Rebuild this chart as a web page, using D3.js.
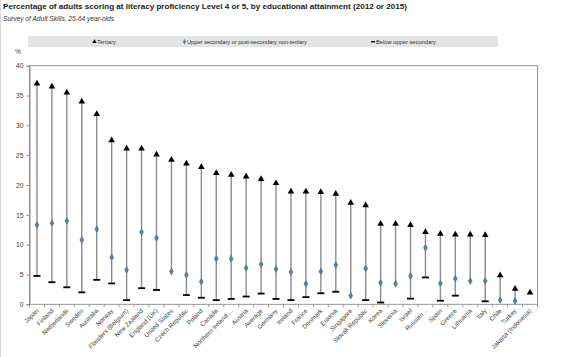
<!DOCTYPE html>
<html>
<head>
<meta charset="utf-8">
<script src="https://cdn.jsdelivr.net/npm/d3@7"></script>
<style>
  html, body { margin: 0; padding: 0; background: #fff; }
  svg { display: block; font-family: "Liberation Sans", Arial, sans-serif; }
</style>
</head>
<body>
<svg id="chart" width="564" height="357"></svg>
<script>
const countries = ["Japan","Finland","Netherlands","Sweden","Australia","Norway","Flanders (Belgium)","New Zealand","England (UK)","United States","Czech Republic","Poland","Canada","Northern Ireland ...","Austria","Average","Germany","Ireland","France","Denmark","Estonia","Singapore","Slovak Republic","Korea","Slovenia","Israel","Russian...","Spain","Greece","Lithuania","Italy","Chile","Turkey","Jakarta (Indonesia)"];
const tertiary = [37.0,36.5,35.5,34.0,31.9,27.5,26.1,26.1,25.1,24.2,23.6,23.0,22.0,21.7,21.4,21.0,20.3,18.9,18.9,18.8,18.5,17.0,16.6,13.5,13.5,13.3,12.1,11.8,11.7,11.7,11.6,4.85,2.6,1.95];
const upperSecondary = [13.3,13.6,14.0,10.8,12.6,7.9,5.75,12.1,11.1,5.5,4.9,3.8,7.65,7.65,6.1,6.7,5.9,5.4,3.45,5.5,6.6,1.45,6.0,3.6,3.45,4.75,9.5,3.5,4.3,3.9,3.9,0.7,0.55,null];
const belowUpper = [4.75,3.7,2.85,2.0,4.1,3.5,0.7,2.7,2.4,null,1.55,1.1,0.7,0.9,1.3,1.8,0.9,0.7,1.2,1.85,2.1,null,0.7,0.3,null,0.95,4.5,0.6,1.45,null,0.5,null,null,null];
const yTicks = [0,5,10,15,20,25,30,35,40];
const legendLabels = ["Tertiary","Upper secondary or post-secondary non-tertiary","Below upper secondary"];

const svg = d3.select("#chart");
const L = 29.5, R = 537.5, T = 65.7, B = 304.3;

const x = d3.scaleBand().domain(countries).range([L, R]).padding(0);
const y = d3.scaleLinear().domain([0, 40]).range([B, T]);

// page left border
svg.append("line").attr("x1",0.5).attr("x2",0.5).attr("y1",0).attr("y2",357).attr("stroke","#d8d8d8");

// Title
svg.append("text").attr("x",3).attr("y",9).attr("font-size",8.1).attr("font-weight","bold").attr("fill","#1a1a1a")
  .text("Percentage of adults scoring at literacy proficiency Level 4 or 5, by educational attainment (2012 or 2015)");
svg.append("text").attr("x",3).attr("y",21).attr("font-size",6.6).attr("font-style","italic").attr("fill","#333")
  .text("Survey of Adult Skills, 25-64 year-olds");

// Legend
svg.append("rect").attr("x",28).attr("y",36).attr("width",470).attr("height",11).attr("fill","#e4e4e4");
const lg = svg.append("g").attr("font-size",5.8).attr("fill","#333");
lg.append("path").attr("d", d3.symbol(d3.symbolTriangle, 9)()).attr("transform","translate(94.5,41.8)").attr("fill","#000");
lg.append("text").attr("x",97).attr("y",44).text(legendLabels[0]);
lg.append("path").attr("d", d3.symbol(d3.symbolDiamond, 9)()).attr("transform","translate(184.5,41.7)").attr("fill","#5a7aa5");
lg.append("text").attr("x",187).attr("y",44).attr("textLength",120).text(legendLabels[1]);
lg.append("rect").attr("x",371).attr("y",41).attr("width",4).attr("height",1.4).attr("fill","#000");
lg.append("text").attr("x",376).attr("y",44).attr("textLength",60).text(legendLabels[2]);

// % label
svg.append("text").attr("x",15).attr("y",54).attr("font-size",6.5).attr("fill","#444").text("%");

// Plot frame
svg.append("rect").attr("x",L).attr("y",T).attr("width",R-L).attr("height",B-T)
  .attr("fill","none").attr("stroke","#8a8a8a").attr("stroke-width",0.9);

// Y axis
const yAxis = d3.axisLeft(y).tickValues(yTicks).tickSize(3).tickPadding(3);
const gy = svg.append("g").attr("transform",`translate(${L},0)`).call(yAxis);
gy.select(".domain").attr("stroke","#8a8a8a");
gy.selectAll(".tick line").attr("stroke","#8a8a8a");
gy.selectAll(".tick text").attr("font-size",6.8).attr("fill","#444").attr("font-family","Liberation Sans, Arial, sans-serif");

// X axis ticks at category boundaries
const gx = svg.append("g");
gx.selectAll("line").data(countries).enter().append("line")
  .attr("x1", d => x(d) + x.bandwidth()).attr("x2", d => x(d) + x.bandwidth())
  .attr("y1", B).attr("y2", B + 3).attr("stroke","#8a8a8a").attr("stroke-width",0.8);
gx.append("line").attr("x1",L).attr("x2",L).attr("y1",B).attr("y2",B+3).attr("stroke","#8a8a8a").attr("stroke-width",0.8);

// X labels
gx.selectAll("text").data(countries).enter().append("text")
  .attr("transform", d => `translate(${x(d) + x.bandwidth()/2 + 2},${B + 7}) rotate(-45)`)
  .attr("text-anchor","end").attr("font-size",6.3).attr("fill","#444")
  .text(d => d);

// Data rows
const rows = countries.map((c, i) => ({c, t: tertiary[i], u: upperSecondary[i], b: belowUpper[i]}));

// Connector lines
svg.append("g").selectAll("line").data(rows).enter().append("line")
  .attr("x1", d => x(d.c) + x.bandwidth()/2).attr("x2", d => x(d.c) + x.bandwidth()/2)
  .attr("y1", d => y(d.t))
  .attr("y2", d => {
    const vals = [d.t, d.u, d.b].filter(v => v != null);
    return y(d3.min(vals));
  })
  .attr("stroke","#8c8c8c").attr("stroke-width",1.4);

// Below upper secondary dashes
svg.append("g").selectAll("rect").data(rows.filter(d => d.b != null)).enter().append("rect")
  .attr("x", d => x(d.c) + x.bandwidth()/2 - 3.5).attr("y", d => y(d.b) - 0.9)
  .attr("width",7).attr("height",1.8).attr("fill","#000");

// Upper secondary diamonds
svg.append("g").selectAll("path").data(rows.filter(d => d.u != null)).enter().append("path")
  .attr("d", d3.symbol(d3.symbolDiamond, 18)())
  .attr("transform", d => `translate(${x(d.c) + x.bandwidth()/2},${y(d.u)})`)
  .attr("fill","#5a7aa5");

// Tertiary triangles
svg.append("g").selectAll("path").data(rows).enter().append("path")
  .attr("d", d3.symbol(d3.symbolTriangle, 19)())
  .attr("transform", d => `translate(${x(d.c) + x.bandwidth()/2},${y(d.t)})`)
  .attr("fill","#000");
</script>
</body>
</html>
